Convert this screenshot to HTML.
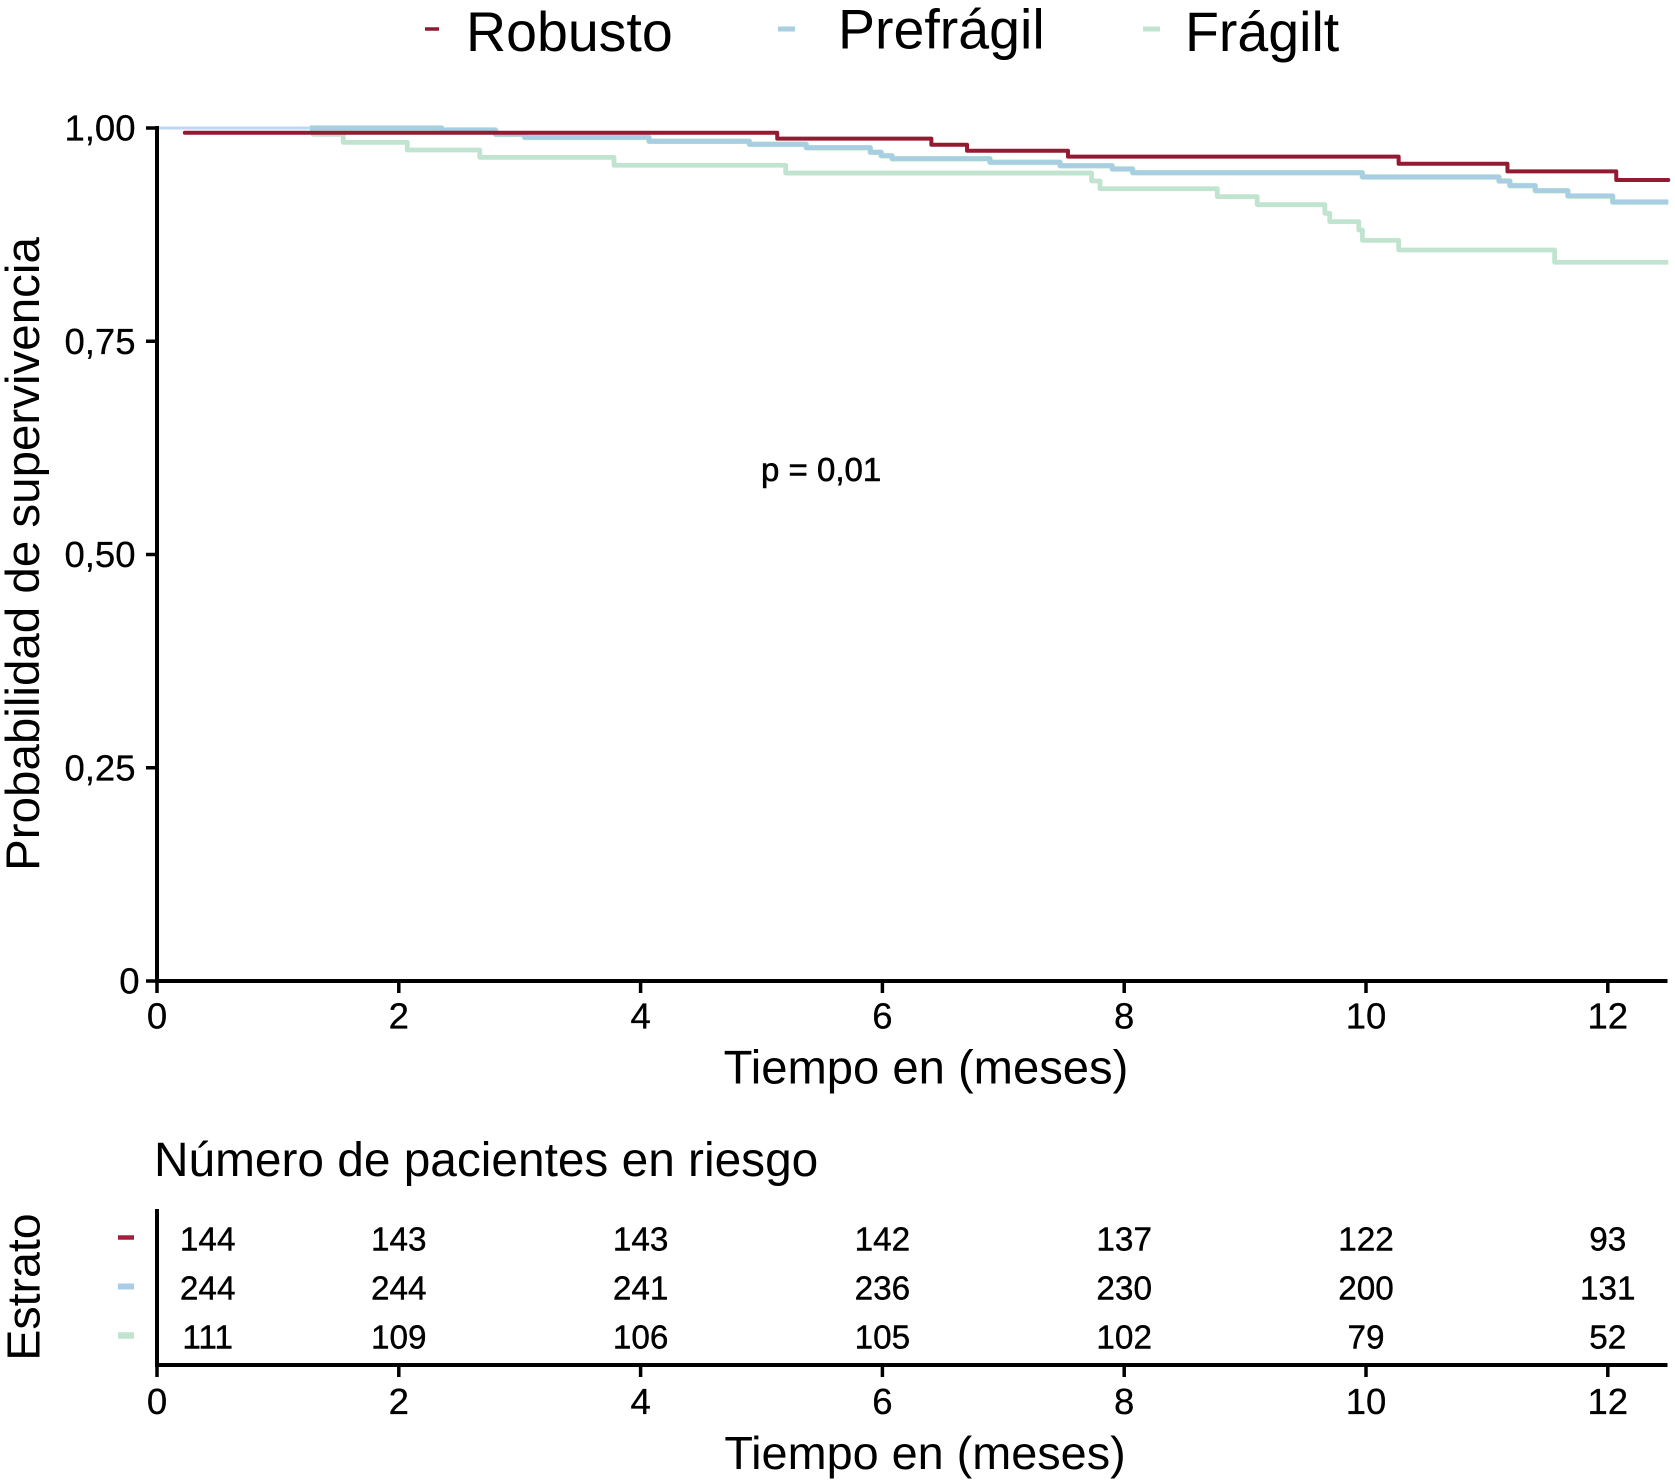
<!DOCTYPE html>
<html lang="es">
<head>
<meta charset="utf-8">
<title>Curva de supervivencia</title>
<style>
html,body{margin:0;padding:0;background:#fff;}
svg{display:block;font-family:"Liberation Sans",Arial,sans-serif;fill:#000;}
</style>
</head>
<body>
<svg id="chart" xmlns="http://www.w3.org/2000/svg" width="1675" height="1483" viewBox="0 0 1675 1483">
  <defs>
    <clipPath id="afterSplit"><rect id="afterSplitRect" x="0" y="0" width="1675" height="1483"/></clipPath>
  </defs>
  <rect x="0" y="0" width="1675" height="1483" fill="#fff"/>
  <g id="legend">
    <g>
      <line x1="425" x2="439" y1="29" y2="29" stroke="#8e1a32" stroke-width="3.5"/>
      <text x="466" y="51" font-size="55.5">Robusto</text>
    </g>
    <g>
      <line x1="778" x2="795" y1="29" y2="29" stroke="#a9cfe0" stroke-width="5"/>
      <text x="838" y="48.5" font-size="55.5">Prefrágil</text>
    </g>
    <g>
      <line x1="1143" x2="1160" y1="29" y2="29" stroke="#c0e4d0" stroke-width="5"/>
      <text x="1185" y="51" font-size="55.5">Frágilt</text>
    </g>
  </g>
  <g id="curves"></g>
  <g id="mainAxes"></g>
  <text transform="translate(39,554) rotate(-90)" text-anchor="middle" font-size="47.5">Probabilidad de supervivencia</text>
  <text x="926" y="1083.5" text-anchor="middle" font-size="47.2">Tiempo en (meses)</text>
  <text x="761" y="481" font-size="33" stroke="#000" stroke-width="0.6">p = 0,01</text>
  <text x="154" y="1176" font-size="47.8">Número de pacientes en riesgo</text>
  <g id="riskTable"></g>
  <g id="riskAxes"></g>
  <text transform="translate(39.5,1287) rotate(-90)" text-anchor="middle" font-size="46.5">Estrato</text>
  <text x="925" y="1469" text-anchor="middle" font-size="46.8">Tiempo en (meses)</text>
</svg>
<script>
// Tick values and labels
const xTicks = [0, 2, 4, 6, 8, 10, 12];
const yTicks = [1, 0.75, 0.5, 0.25, 0];
const yTickLabels = ["1,00", "0,75", "0,50", "0,25", "0"];

// Kaplan-Meier step data (months, survival probability)
const robustoTimes = [0.23, 5.13, 6.405, 6.70, 7.535, 10.27, 11.17, 12.07, 12.5];
const robustoSurv = [0.9945, 0.9875, 0.9804, 0.9734, 0.9664, 0.9581, 0.9492, 0.939, 0.939];
const prefragilTimes = [0, 2.355, 2.80, 3.04, 4.07, 4.90, 5.37, 5.90, 5.99, 6.08, 6.89, 7.47, 7.90, 8.07, 9.97, 11.10, 11.19, 11.40, 11.67, 12.04, 12.5];
const prefragilSurv = [1, 0.9977, 0.9926, 0.989, 0.9844, 0.9809, 0.9769, 0.9715, 0.9675, 0.964, 0.9598, 0.9558, 0.952, 0.9476, 0.9426, 0.9379, 0.9324, 0.9265, 0.9203, 0.9132, 0.9132];
const fragilTimes = [0, 1.29, 1.54, 2.07, 2.67, 3.78, 5.20, 7.73, 7.80, 8.77, 9.10, 9.66, 9.70, 9.94, 9.97, 10.27, 11.56, 12.5];
const fragilSurv = [1, 0.9926, 0.9832, 0.9742, 0.9656, 0.9563, 0.9472, 0.9379, 0.9288, 0.9195, 0.9101, 0.90, 0.8902, 0.8804, 0.8683, 0.857, 0.8426, 0.8426];

// Number at risk
const riskTimes = [0, 2, 4, 6, 8, 10, 12];
const riskRobusto = [144, 143, 143, 142, 137, 122, 93];
const riskPrefragil = [244, 244, 241, 236, 230, 200, 131];
const riskFragil = [111, 109, 106, 105, 102, 79, 52];

const NS = "http://www.w3.org/2000/svg";
const X0 = 157, PX_PER_MONTH = 120.9, Y_TOP = 128, Y_BOTTOM = 981, X_END = 1667.5;
function xScale(t) { return X0 + t * PX_PER_MONTH; }
function yScale(s) { return Y_BOTTOM - s * (Y_BOTTOM - Y_TOP); }
function rowScale(i) { return 1237.5 + 49 * i; }

function make(tag, parent, props) {
  const el = document.createElementNS(NS, tag);
  for (const k in props) el.setAttribute(k, props[k]);
  parent.appendChild(el);
  return el;
}
function stepPath(times, surv) {
  let d = "M" + xScale(times[0]).toFixed(2) + " " + yScale(surv[0]).toFixed(2);
  for (let i = 1; i < times.length; i++) {
    d += "H" + xScale(times[i]).toFixed(2) + "V" + yScale(surv[i]).toFixed(2);
  }
  return d;
}

// Before the first frail event only the thin pale overlap line is visible
const splitX = xScale(fragilTimes[1]) - 3;
document.getElementById("afterSplitRect").setAttribute("x", splitX);

// Curves
const curves = document.getElementById("curves");
const overlapCurve = make("path", curves, {d: stepPath(prefragilTimes, prefragilSurv), fill: "none", stroke: "#bcd8f6", "stroke-width": 3});


const fragilCurve = make("path", curves, {d: stepPath(fragilTimes, fragilSurv), fill: "none", stroke: "#c0e4d0", "stroke-width": 4.8, "stroke-linejoin": "round", "clip-path": "url(#afterSplit)"});


const prefragilEdge = make("path", curves, {d: stepPath(prefragilTimes, prefragilSurv), fill: "none", stroke: "#b5e8c8", "stroke-width": 5.5, "stroke-linejoin": "round", "clip-path": "url(#afterSplit)"});


const prefragilCurve = make("path", curves, {d: stepPath(prefragilTimes, prefragilSurv), fill: "none", stroke: "#a8cde4", "stroke-width": 4.3, "stroke-linejoin": "round", "clip-path": "url(#afterSplit)"});


const robustoCurve = make("path", curves, {d: stepPath(robustoTimes, robustoSurv), fill: "none", stroke: "#931a30", "stroke-width": 4, "stroke-linejoin": "round", "stroke-linecap": "round"});



// Main axes
const mainAxes = document.getElementById("mainAxes");
const mainY = make("line", mainAxes, {x1: X0, x2: X0, y1: Y_TOP - 2, y2: Y_BOTTOM + 2, stroke: "#000", "stroke-width": 4});


const mainX = make("line", mainAxes, {x1: X0 - 2, x2: X_END, y1: Y_BOTTOM, y2: Y_BOTTOM, stroke: "#000", "stroke-width": 4});


yTicks.forEach(function (v, i) {
  const tick = make("line", mainAxes, {x1: 146, x2: X0, y1: yScale(v), y2: yScale(v), stroke: "#000", "stroke-width": 3.5});
  
  
  const label = make("text", mainAxes, {x: v === 0 ? 139.5 : 135.5, y: yScale(v) + 12.5, "text-anchor": "end", "font-size": 36.5, stroke: "#000", "stroke-width": 0.3});
  
  
  label.textContent = yTickLabels[i];
});
xTicks.forEach(function (v) {
  const tick = make("line", mainAxes, {x1: xScale(v), x2: xScale(v), y1: Y_BOTTOM, y2: 993, stroke: "#000", "stroke-width": 3.5});
  
  
  const label = make("text", mainAxes, {x: xScale(v), y: 1028.5, "text-anchor": "middle", "font-size": 36.5, stroke: "#000", "stroke-width": 0.3});
  
  
  label.textContent = v;
});

// Risk table
const riskTable = document.getElementById("riskTable");
const riskRows = [riskRobusto, riskPrefragil, riskFragil];
const riskKeyColors = ["#a2203c", "#a9cde6", "#c0e4d0"];
const riskKeyWidths = [4.5, 6, 6.5];
riskRows.forEach(function (row, r) {
  const key = make("line", riskTable, {x1: 118, x2: 134, y1: rowScale(r), y2: rowScale(r), stroke: riskKeyColors[r], "stroke-width": riskKeyWidths[r]});
  
  
  row.forEach(function (n, c) {
    const cell = make("text", riskTable, {x: xScale(riskTimes[c]) + (c === 0 ? 50.7 : 0), y: rowScale(r) + 13, "text-anchor": "middle", "font-size": 33.3, stroke: "#000", "stroke-width": 0.4});
    
    
    cell.textContent = n;
  });
});

// Risk axes
const riskAxes = document.getElementById("riskAxes");
const riskY = make("line", riskAxes, {x1: X0, x2: X0, y1: 1209, y2: 1367, stroke: "#000", "stroke-width": 4});


const riskX = make("line", riskAxes, {x1: X0 - 2, x2: X_END, y1: 1365, y2: 1365, stroke: "#000", "stroke-width": 4});


xTicks.forEach(function (v) {
  const tick = make("line", riskAxes, {x1: xScale(v), x2: xScale(v), y1: 1365, y2: 1377, stroke: "#000", "stroke-width": 3.5});
  
  
  const label = make("text", riskAxes, {x: xScale(v), y: 1414, "text-anchor": "middle", "font-size": 36.5, stroke: "#000", "stroke-width": 0.3});
  
  
  label.textContent = v;
});
</script>
</body>
</html>
